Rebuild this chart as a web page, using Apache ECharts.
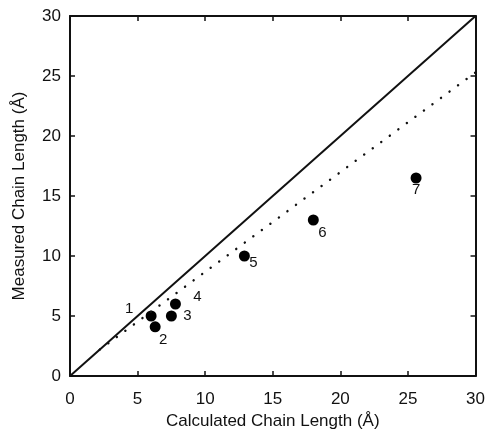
<!DOCTYPE html>
<html><head><meta charset="utf-8">
<script src="https://cdn.jsdelivr.net/npm/echarts@6/dist/echarts.min.js"></script>
<style>html,body{margin:0;padding:0;background:#fff}#c{width:488px;height:435px}</style>
</head><body><div id="c"></div>
<script>
const calcLen = [6.0, 6.3, 7.5, 7.8, 12.9, 18.0, 25.6];
const measLen = [5.0, 4.1, 5.0, 6.0, 10.0, 13.0, 16.5];
const pointLabels = ['1', '2', '3', '4', '5', '6', '7'];
const identityX = [0, 30];
const identityY = [0, 30];
const fitX = [2.2, 30];
const fitY = [2.2, 25.3];
const axisMin = 0, axisMax = 30, axisStep = 5;
const xName = 'Calculated Chain Length (Å)';
const yName = 'Measured Chain Length (Å)';

// label placement (style only)
const labelOffsets = [[-22,-7],[8,13],[16,0],[22,-7],[9,7],[9,13],[0,12]];

const font = 'Liberation Sans, Arial, sans-serif';
const ink = '#111';
const chart = echarts.init(document.getElementById('c'));

const baseAxis = {
  type: 'value', min: axisMin, max: axisMax, interval: axisStep,
  splitLine: {show: false},
  axisLine: {show: true, onZero: false, lineStyle: {color: ink, width: 2}},
  axisTick: {show: true, inside: true, length: 5, lineStyle: {color: ink, width: 1.5}},
};

chart.setOption({
  animation: false,
  grid: {left: 70, right: 12, top: 16, bottom: 55, containLabel: false},
  xAxis: [
    Object.assign({}, baseAxis, {
      position: 'bottom', name: xName, nameLocation: 'middle', nameGap: 37,
      nameTextStyle: {fontFamily: font, fontSize: 17, color: ink},
      axisLabel: {fontFamily: font, fontSize: 17, color: ink, margin: 15}
    }),
    Object.assign({}, baseAxis, {position: 'top', axisLabel: {show: false}})
  ],
  yAxis: [
    Object.assign({}, baseAxis, {
      position: 'left', name: yName, nameLocation: 'middle', nameGap: 42,
      nameTextStyle: {fontFamily: font, fontSize: 17, color: ink},
      axisLabel: {fontFamily: font, fontSize: 17, color: ink, margin: 9}
    }),
    Object.assign({}, baseAxis, {position: 'right', axisLabel: {show: false}})
  ],
  series: [
    {
      type: 'line', data: identityX.map((x, i) => [x, identityY[i]]),
      symbol: 'none', lineStyle: {color: ink, width: 2}, silent: true
    },
    {
      type: 'line', data: fitX.map((x, i) => [x, fitY[i]]),
      symbol: 'none', lineStyle: {color: ink, width: 2.4, type: [0.1, 10.5], cap: 'round'}, silent: true
    },
    {
      type: 'scatter', symbol: 'circle', symbolSize: 11,
      itemStyle: {color: '#000', opacity: 1},
      data: calcLen.map((x, i) => ({
        value: [x, measLen[i]],
        label: {show: true, formatter: pointLabels[i], position: 'inside', offset: labelOffsets[i],
                fontFamily: font, fontSize: 15, color: ink, opacity: 1, textBorderWidth: 0}
      }))
    }
  ]
});
</script></body></html>
